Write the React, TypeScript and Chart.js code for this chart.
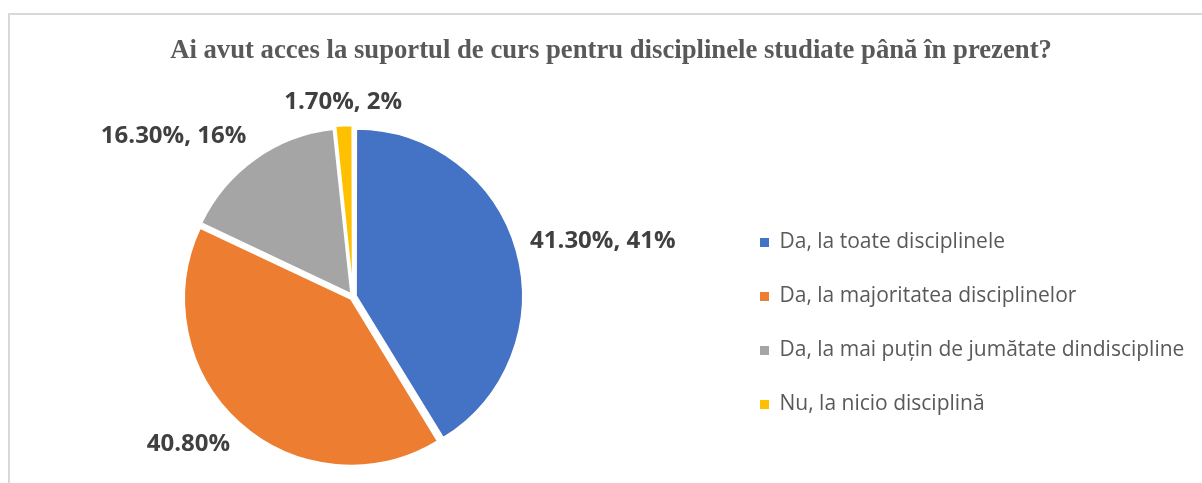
import React, { useEffect, useRef } from 'react';
import { Chart, registerables } from 'chart.js';

Chart.register(...registerables);

// ---- data ----
const TITLE = 'Ai avut acces la suportul de curs pentru disciplinele studiate până în prezent?';
const categories = [
  'Da, la toate disciplinele',
  'Da, la majoritatea disciplinelor',
  'Da, la mai puțin de jumătate dindiscipline',
  'Nu, la nicio disciplină',
];
const values = [41.3, 40.8, 16.3, 1.7];
const valueLabels = ['41.30%, 41%', '40.80%', '16.30%, 16%', '1.70%, 2%'];
const colors = ['#4472C4', '#ED7D31', '#A5A5A5', '#FFC000'];

// ---- layout / style ----
const CANVAS_LEFT = -40;
const CANVAS_W = 1283;
const CANVAS_H = 483;
const TITLE_SIZE = 26.7;
const LEGEND_SIZE = 21;
const LEGEND_WIDTH = 516;
const LABEL_SIZE = 24;
const LABEL_GAP = 18.5;
const PIE_RADIUS = 165.5;

const legendWidthPlugin = {
  id: 'legendWidth',
  beforeLayout(chart: any) {
    const legend = chart.legend;
    if (legend && !legend.__patched) {
      const orig = legend.fit;
      legend.fit = function (this: any) {
        orig.call(this);
        if (this.options.display) this.width = LEGEND_WIDTH;
      };
      legend.__patched = true;
    }
  },
};

const dataLabelPlugin = {
  id: 'pieDataLabels',
  afterDatasetsDraw(chart: any) {
    const { ctx } = chart;
    const meta = chart.getDatasetMeta(0);
    ctx.save();
    ctx.font = `bold ${LABEL_SIZE}px "Open Sans"`;
    ctx.fillStyle = '#404040';
    ctx.textAlign = 'center';
    ctx.textBaseline = 'middle';
    meta.data.forEach((arc: any, i: number) => {
      const { x, y, startAngle, endAngle, outerRadius } = arc.getProps(
        ['x', 'y', 'startAngle', 'endAngle', 'outerRadius'],
        true
      );
      const mid = (startAngle + endAngle) / 2;
      const dx = Math.cos(mid);
      const dy = Math.sin(mid);
      const text = valueLabels[i];
      const hw = ctx.measureText(text).width / 2;
      const hh = LABEL_SIZE * 0.45;
      const px = x + (outerRadius + LABEL_GAP) * dx;
      const py = y + (outerRadius + LABEL_GAP) * dy;
      const sx = Math.sign(dx) * Math.max(0, Math.min(1, (Math.abs(dx) - 0.1) * 2.5));
      const sy = Math.max(-1, Math.min(1, 2 * dy));
      ctx.fillText(text, px + hw * sx, py + hh * sy);
    });
    ctx.restore();
  },
};

export default function App() {
  const ref = useRef<HTMLCanvasElement>(null);

  useEffect(() => {
    const canvas = ref.current;
    if (!canvas) return;
    const chart = new Chart(canvas, {
      type: 'pie',
      data: {
        labels: categories,
        datasets: [
          {
            data: values,
            backgroundColor: colors,
            borderColor: '#ffffff',
            borderWidth: 2,
            offset: 12,
            radius: PIE_RADIUS,
          } as any,
        ],
      },
      options: {
        animation: false,
        responsive: false,
        layout: { padding: { left: 19, right: 0, top: 0, bottom: 35 } },
        plugins: {
          tooltip: { enabled: false },
          title: {
            display: true,
            text: TITLE,
            color: '#595959',
            font: { family: '"Liberation Serif", "Times New Roman", serif', size: TITLE_SIZE, weight: 'bold', lineHeight: 1.2 },
            padding: { top: 35, bottom: 78 },
          },
          legend: {
            display: true,
            position: 'right',
            align: 'end',
            labels: {
              boxWidth: 9,
              boxHeight: 9,
              padding: 33,
              color: '#595959',
              font: { family: '"Open Sans"', size: LEGEND_SIZE },
              generateLabels: () =>
                categories.map((text, i) => ({
                  text,
                  fillStyle: colors[i],
                  strokeStyle: colors[i],
                  lineWidth: 0,
                  hidden: false,
                  index: i,
                  fontColor: '#595959',
                })),
            },
          },
        },
      },
      plugins: [legendWidthPlugin, dataLabelPlugin],
    } as any);
    return () => chart.destroy();
  }, []);

  return (
    <div
      style={{
        position: 'fixed',
        left: 0,
        top: 0,
        width: 1202,
        height: 483,
        overflow: 'hidden',
        background: '#ffffff',
      }}
    >
      <div
        style={{
          position: 'absolute',
          left: 8,
          top: 13,
          width: 1240,
          height: 520,
          border: '2px solid #d9d9d9',
          boxSizing: 'border-box',
        }}
      />
      <canvas
        ref={ref}
        width={CANVAS_W}
        height={CANVAS_H}
        style={{ position: 'absolute', left: CANVAS_LEFT, top: 0, width: CANVAS_W, height: CANVAS_H }}
      />
    </div>
  );
}
